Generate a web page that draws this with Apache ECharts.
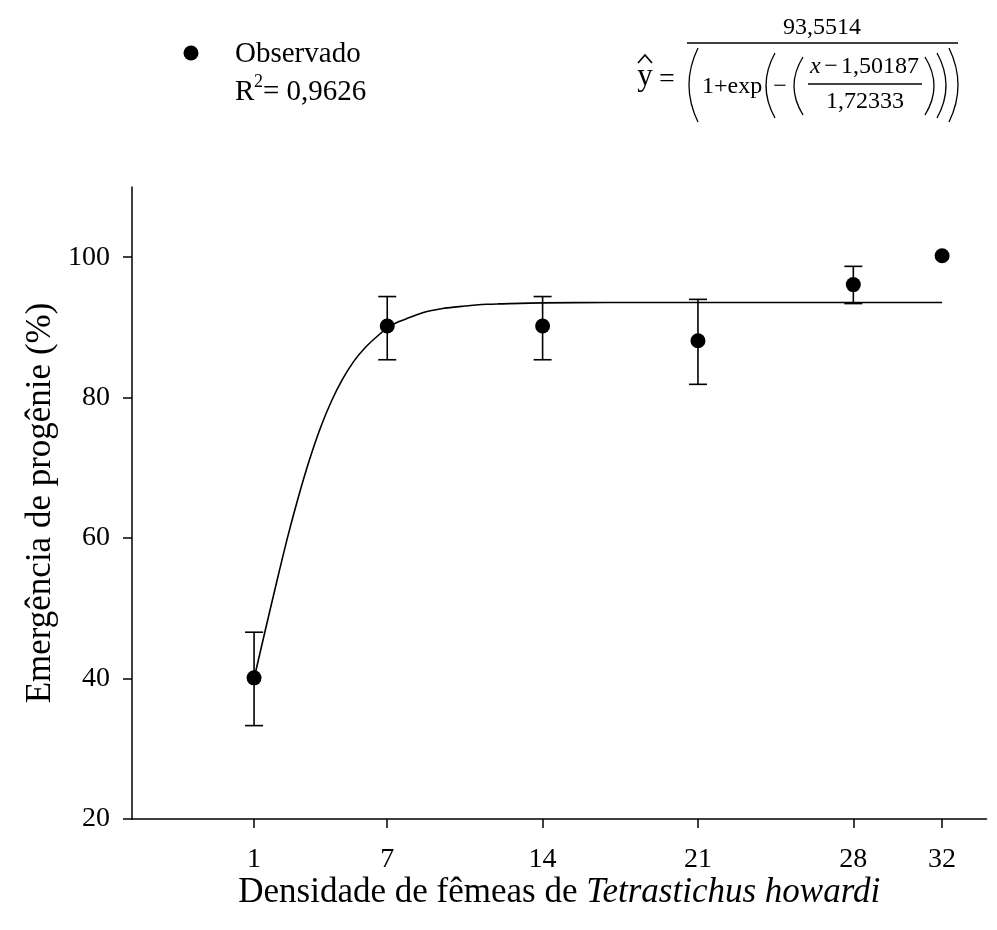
<!DOCTYPE html>
<html>
<head>
<meta charset="utf-8">
<script src="https://cdn.jsdelivr.net/npm/echarts@6/dist/echarts.min.js"></script>
<style>
  html, body { margin: 0; padding: 0; background: #fff; }
  #chart { width: 997px; height: 930px; }
</style>
</head>
<body>
<div id="chart"></div>
<script>
// densidade de femeas (x) e emergencia observada
var densidade = [1, 7, 14, 21, 28, 32];
var emergencia = [40.1, 90.2, 90.2, 88.1, 96.1, 100.2];
var erroInf = [33.3, 85.4, 85.4, 81.9, 93.4, 100.2];
var erroSup = [46.6, 94.4, 94.4, 94.0, 98.7, 100.2];

// curva ajustada
var curvaX = [1, 1.5, 2, 2.5, 3, 3.5, 4, 4.5, 5, 5.5, 6, 6.5, 7, 7.5, 8, 8.5, 9, 9.5, 10, 10.5, 11, 11.5, 12, 14, 17, 32];
var curvaY = [40.0, 46.8, 53.5, 60.0, 65.9, 71.2, 75.8, 79.6, 82.7, 85.2, 87.1, 88.6, 89.9, 90.8, 91.4, 92.0, 92.4, 92.7, 92.9, 93.05, 93.2, 93.3, 93.35, 93.5, 93.55, 93.55];

var xTicks = [1, 7, 14, 21, 28, 32];
var yTicks = [20, 40, 60, 80, 100];

var serif = '"Liberation Serif", "Times New Roman", serif';

var pontos = [];
var barras = [];
for (var i = 0; i < densidade.length; i++) {
    pontos.push([densidade[i], emergencia[i]]);
    if (erroSup[i] - erroInf[i] > 0.01) {
        barras.push([densidade[i], erroInf[i], erroSup[i]]);
    }
}
var curva = [];
for (var j = 0; j < curvaX.length; j++) {
    curva.push([curvaX[j], curvaY[j]]);
}

function txt(text, x, y, size, align, extra) {
    var st = {
        text: text, x: x, y: y,
        font: (extra && extra.italic ? 'italic ' : '') + size + 'px ' + serif,
        fill: '#000',
        align: align || 'center', textAlign: align || 'center',
        verticalAlign: 'middle', textVerticalAlign: 'middle'
    };
    return { type: 'text', style: st, z: 10 };
}
function linha(x1, y1, x2, y2) {
    return { type: 'line', shape: { x1: x1, y1: y1, x2: x2, y2: y2 }, style: { stroke: '#000', lineWidth: 1.3 }, z: 10 };
}
// parenteses desenhados como curvas
function paren(x, top, bottom, dir) {
    var w = 9 * dir;
    return {
        type: 'bezierCurve',
        shape: { x1: x, y1: top, x2: x, y2: bottom, cpx1: x - 2 * w, cpy1: (top + bottom) / 2 },
        style: { stroke: '#000', lineWidth: 1.3, fill: null }, z: 10
    };
}

var grafico = [
    // legenda
    { type: 'circle', shape: { cx: 191, cy: 53, r: 7.5 }, style: { fill: '#000' }, z: 10 },
    txt('Observado', 235, 54, 29, 'left'),
    txt('R', 235, 92, 29, 'left'),
    txt('2', 254, 82, 18, 'left'),
    txt('= 0,9626', 263, 92, 29, 'left'),
    // equacao
    txt('93,5514', 822, 28, 24),
    linha(687, 43, 958, 43),
    { type: 'polyline', shape: { points: [[638, 63], [645, 55], [652, 63]] }, style: { stroke: '#000', lineWidth: 1.6, fill: null }, z: 10 },
    txt('y', 645, 77, 31),
    txt('=', 667, 80, 28),
    paren(698, 48, 122, 1),
    txt('1+exp', 702, 87, 24, 'left'),
    paren(775, 53, 118, 1),
    txt('\u2212', 780, 87, 24),
    paren(803, 57, 115, 1),
    txt('x', 810, 67, 24, 'left', { italic: true }),
    txt('\u2212', 831, 67, 24),
    txt('1,50187', 841, 67, 24, 'left'),
    linha(808, 84, 922, 84),
    txt('1,72333', 865, 102, 24),
    paren(925, 57, 115, -1),
    paren(937, 53, 118, -1),
    paren(949, 48, 122, -1)
];

var chart = echarts.init(document.getElementById('chart'));
var option = {
    animation: false,
    backgroundColor: '#fff',
    grid: { left: 132, right: 10.5, top: 187, bottom: 111, containLabel: false },
    xAxis: {
        type: 'value',
        min: -4.5, max: 34,
        name: 'Densidade de fêmeas de {i|Tetrastichus howardi}',
        nameLocation: 'middle',
        nameGap: 56,
        nameMoveOverlap: false,
        nameTextStyle: {
            fontFamily: serif, fontSize: 35, color: '#000',
            rich: { i: { fontFamily: serif, fontSize: 35, fontStyle: 'italic', color: '#000' } }
        },
        splitLine: { show: false },
        axisLine: { onZero: false, lineStyle: { color: '#000', width: 1.5 } },
        axisTick: { customValues: xTicks, length: 9, lineStyle: { color: '#000', width: 1.5 } },
        axisLabel: { customValues: xTicks, margin: 27, fontFamily: serif, fontSize: 28, color: '#000' }
    },
    yAxis: {
        type: 'value',
        min: 20, max: 110,
        name: 'Emergência de progênie (%)',
        nameLocation: 'middle',
        nameGap: 74,
        nameMoveOverlap: false,
        nameTextStyle: { fontFamily: serif, fontSize: 35, color: '#000' },
        splitLine: { show: false },
        axisLine: { show: true, onZero: false, lineStyle: { color: '#000', width: 1.5 } },
        axisTick: { show: true, customValues: yTicks, length: 9, lineStyle: { color: '#000', width: 1.5 } },
        axisLabel: { customValues: yTicks, margin: 22, fontFamily: serif, fontSize: 28, color: '#000' }
    },
    series: [
        {
            type: 'line',
            data: curva,
            showSymbol: false,
            smooth: 0.3,
            lineStyle: { color: '#000', width: 1.6 },
            z: 2
        },
        {
            type: 'custom',
            data: barras,
            renderItem: function (params, api) {
                var x = api.value(0);
                var lo = api.coord([x, api.value(1)]);
                var hi = api.coord([x, api.value(2)]);
                var cap = 9;
                var st = { stroke: '#000', lineWidth: 1.6 };
                return {
                    type: 'group',
                    children: [
                        { type: 'line', shape: { x1: lo[0], y1: lo[1], x2: hi[0], y2: hi[1] }, style: st },
                        { type: 'line', shape: { x1: hi[0] - cap, y1: hi[1], x2: hi[0] + cap, y2: hi[1] }, style: st },
                        { type: 'line', shape: { x1: lo[0] - cap, y1: lo[1], x2: lo[0] + cap, y2: lo[1] }, style: st }
                    ]
                };
            },
            z: 3
        },
        {
            type: 'scatter',
            data: pontos,
            symbol: 'circle',
            symbolSize: 15,
            itemStyle: { color: '#000', opacity: 1 },
            z: 4
        }
    ],
    graphic: grafico
};
chart.setOption(option);
</script>
</body>
</html>
